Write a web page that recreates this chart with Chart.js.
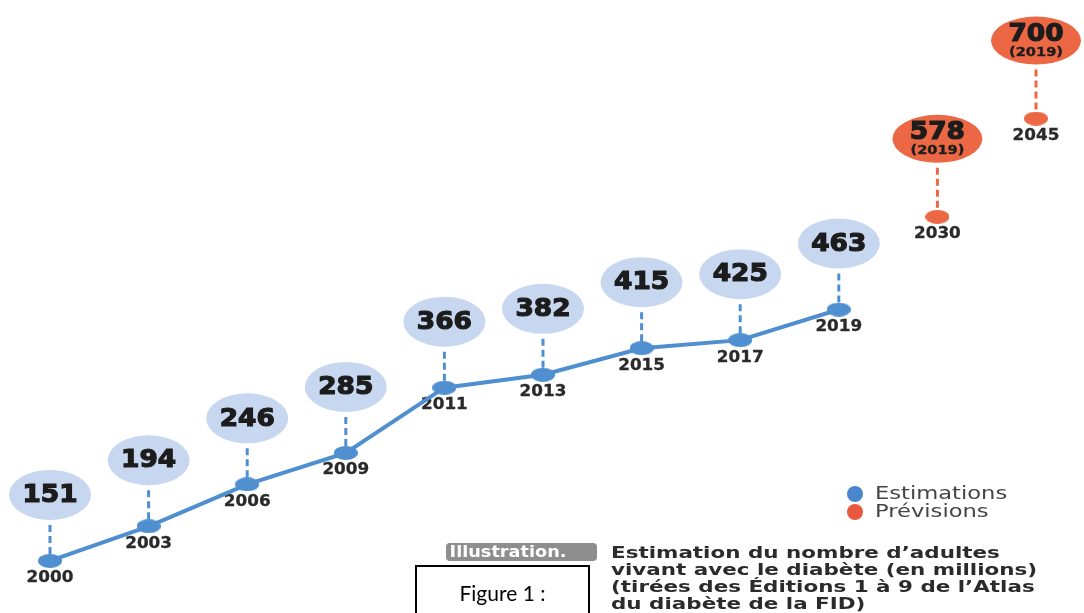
<!DOCTYPE html>
<html>
<head>
<meta charset="utf-8">
<script src="https://cdn.jsdelivr.net/npm/chart.js@4/dist/chart.umd.min.js"></script>
<style>
  body { margin: 0; background: #fff; }
  #wrap { position: relative; width: 1084px; height: 613px; overflow: hidden; }
  #tag { position: absolute; left: 446px; top: 543px; width: 151px; height: 18px; background: #8e8e8e;
         border-radius: 4px; overflow: hidden; }
  #tag span { display: block; color: #fff; font: bold 15px "DejaVu Sans"; line-height: 18px; white-space: nowrap;
              transform: scaleX(1.18); transform-origin: left; padding-left: 3px; }
  #caption { position: absolute; left: 611px; top: 544px; font: bold 16.5px "DejaVu Sans"; line-height: 17px;
             color: #2b2b2b; white-space: nowrap; transform: scaleX(1.3); transform-origin: left top; }
  #fig { position: absolute; left: 415px; top: 565px; width: 175px; height: 60px; border: 2px solid #000;
         box-sizing: border-box; font: 21px Lato; text-align: center; padding-top: 13px; color: #000; }
</style>
</head>
<body>
<div id="wrap">
  <canvas id="myChart" width="1084" height="613"></canvas>
  <div id="tag"><span>Illustration.</span></div>
  <div id="caption">Estimation du nombre d’adultes<br>vivant avec le diabète (en millions)<br>(tirées des Éditions 1 à 9 de l’Atlas<br>du diabète de la FID)</div>
  <div id="fig">Figure 1 :</div>
</div>
<script>
var years = ['2000', '2003', '2006', '2009', '2011', '2013', '2015', '2017', '2019', '2030', '2045'];
var estimations = [151, 194, 246, 285, 366, 382, 415, 425, 463, null, null];
var previsions = [null, null, null, null, null, null, null, null, null, 578, 700];
var previsionEdition = '(2019)';

function ellipseDot(color) {
  var c = document.createElement('canvas');
  c.width = 24; c.height = 14;
  var g = c.getContext('2d');
  g.fillStyle = color;
  g.beginPath();
  g.ellipse(12, 7, 12, 7, 0, 0, 2 * Math.PI);
  g.fill();
  return c;
}

// draw text stretched horizontally, a bit heavier
function wideText(ctx, txt, x, y, sx, weight) {
  ctx.save();
  ctx.translate(x, y);
  ctx.scale(sx, 1);
  if (weight) {
    ctx.lineWidth = weight;
    ctx.strokeStyle = ctx.fillStyle;
    ctx.strokeText(txt, 0, 0);
  }
  ctx.fillText(txt, 0, 0);
  ctx.restore();
}

var bubbles = {
  id: 'bubbles',
  beforeDatasetsDraw: function(chart) {
    var ctx = chart.ctx;
    chart.data.datasets.forEach(function(ds, i) {
      var meta = chart.getDatasetMeta(i);
      meta.data.forEach(function(pt, j) {
        var v = ds.data[j];
        if (v == null) return;
        var forecast = ds.forecast;
        var lift = forecast ? 78 : 66;
        var rx = forecast ? 45 : 41, ry = forecast ? 24 : 25;
        var cy = pt.y - lift;
        ctx.save();
        ctx.strokeStyle = ds.borderColor;
        ctx.lineWidth = 3;
        ctx.setLineDash([7, 4]);
        ctx.beginPath();
        ctx.moveTo(pt.x, cy + ry + 5);
        ctx.lineTo(pt.x, pt.y - 6);
        ctx.stroke();
        ctx.setLineDash([]);
        ctx.fillStyle = ds.bubbleColor;
        ctx.beginPath();
        ctx.ellipse(pt.x, cy, rx, ry, 0, 0, 2 * Math.PI);
        ctx.fill();
        ctx.fillStyle = '#1c1c1c';
        ctx.textAlign = 'center';
        ctx.textBaseline = 'middle';
        ctx.font = 'bold 24px "DejaVu Sans"';
        if (forecast) {
          wideText(ctx, String(v), pt.x, cy - 6, 1.1, 1.2);
          ctx.font = 'bold 13px "DejaVu Sans"';
          wideText(ctx, previsionEdition, pt.x, cy + 12, 1.12, 0.4);
        } else {
          wideText(ctx, String(v), pt.x, cy + 1, 1.1, 1.2);
        }
        ctx.font = 'bold 15px "DejaVu Sans"';
        ctx.fillStyle = '#2a2a2a';
        ctx.textBaseline = 'top';
        wideText(ctx, chart.data.labels[j], pt.x, pt.y + 10, 1.12, 0.3);
        ctx.restore();
      });
    });
  },
  afterDraw: function(chart) {
    var ctx = chart.ctx;
    ctx.save();
    chart.data.datasets.forEach(function(ds, i) {
      var y = 494 + i * 18;
      ctx.fillStyle = ds.legendColor;
      ctx.beginPath();
      ctx.arc(855, y, 8, 0, 2 * Math.PI);
      ctx.fill();
      ctx.fillStyle = '#444';
      ctx.font = '17px "DejaVu Sans"';
      ctx.textAlign = 'left';
      ctx.textBaseline = 'middle';
      wideText(ctx, ds.label, 875, y + 1, 1.33, 0);
    });
    ctx.restore();
  }
};

window.onload = function() {
  var ctx = document.getElementById('myChart').getContext('2d');
  var config = {
    type: 'line',
    data: {
      labels: years,
      datasets: [{
        label: 'Estimations',
        data: estimations,
        borderColor: '#4f8fd0',
        backgroundColor: '#4f8fd0',
        bubbleColor: '#c6d7ef',
        legendColor: '#4a86cc',
        borderWidth: 4,
        tension: 0,
        pointStyle: ellipseDot('#4f8fd0'),
        pointRadius: 7,
        clip: false,
        forecast: false
      }, {
        label: 'Prévisions',
        data: previsions,
        borderColor: '#ec6844',
        backgroundColor: '#ec6844',
        bubbleColor: '#ec6844',
        legendColor: '#e9573f',
        showLine: false,
        pointStyle: ellipseDot('#ec6844'),
        pointRadius: 7,
        clip: false,
        forecast: true
      }]
    },
    options: {
      responsive: false,
      animation: false,
      layout: { padding: { left: 50, right: 48, top: 38, bottom: 7 } },
      scales: {
        x: { type: 'category', display: false, offset: false },
        y: { min: 100, max: 800, display: false }
      },
      plugins: { legend: { display: false }, tooltip: { enabled: false } }
    },
    plugins: [bubbles]
  };
  var myChart = new Chart(ctx, config);
};
</script>
</body>
</html>
